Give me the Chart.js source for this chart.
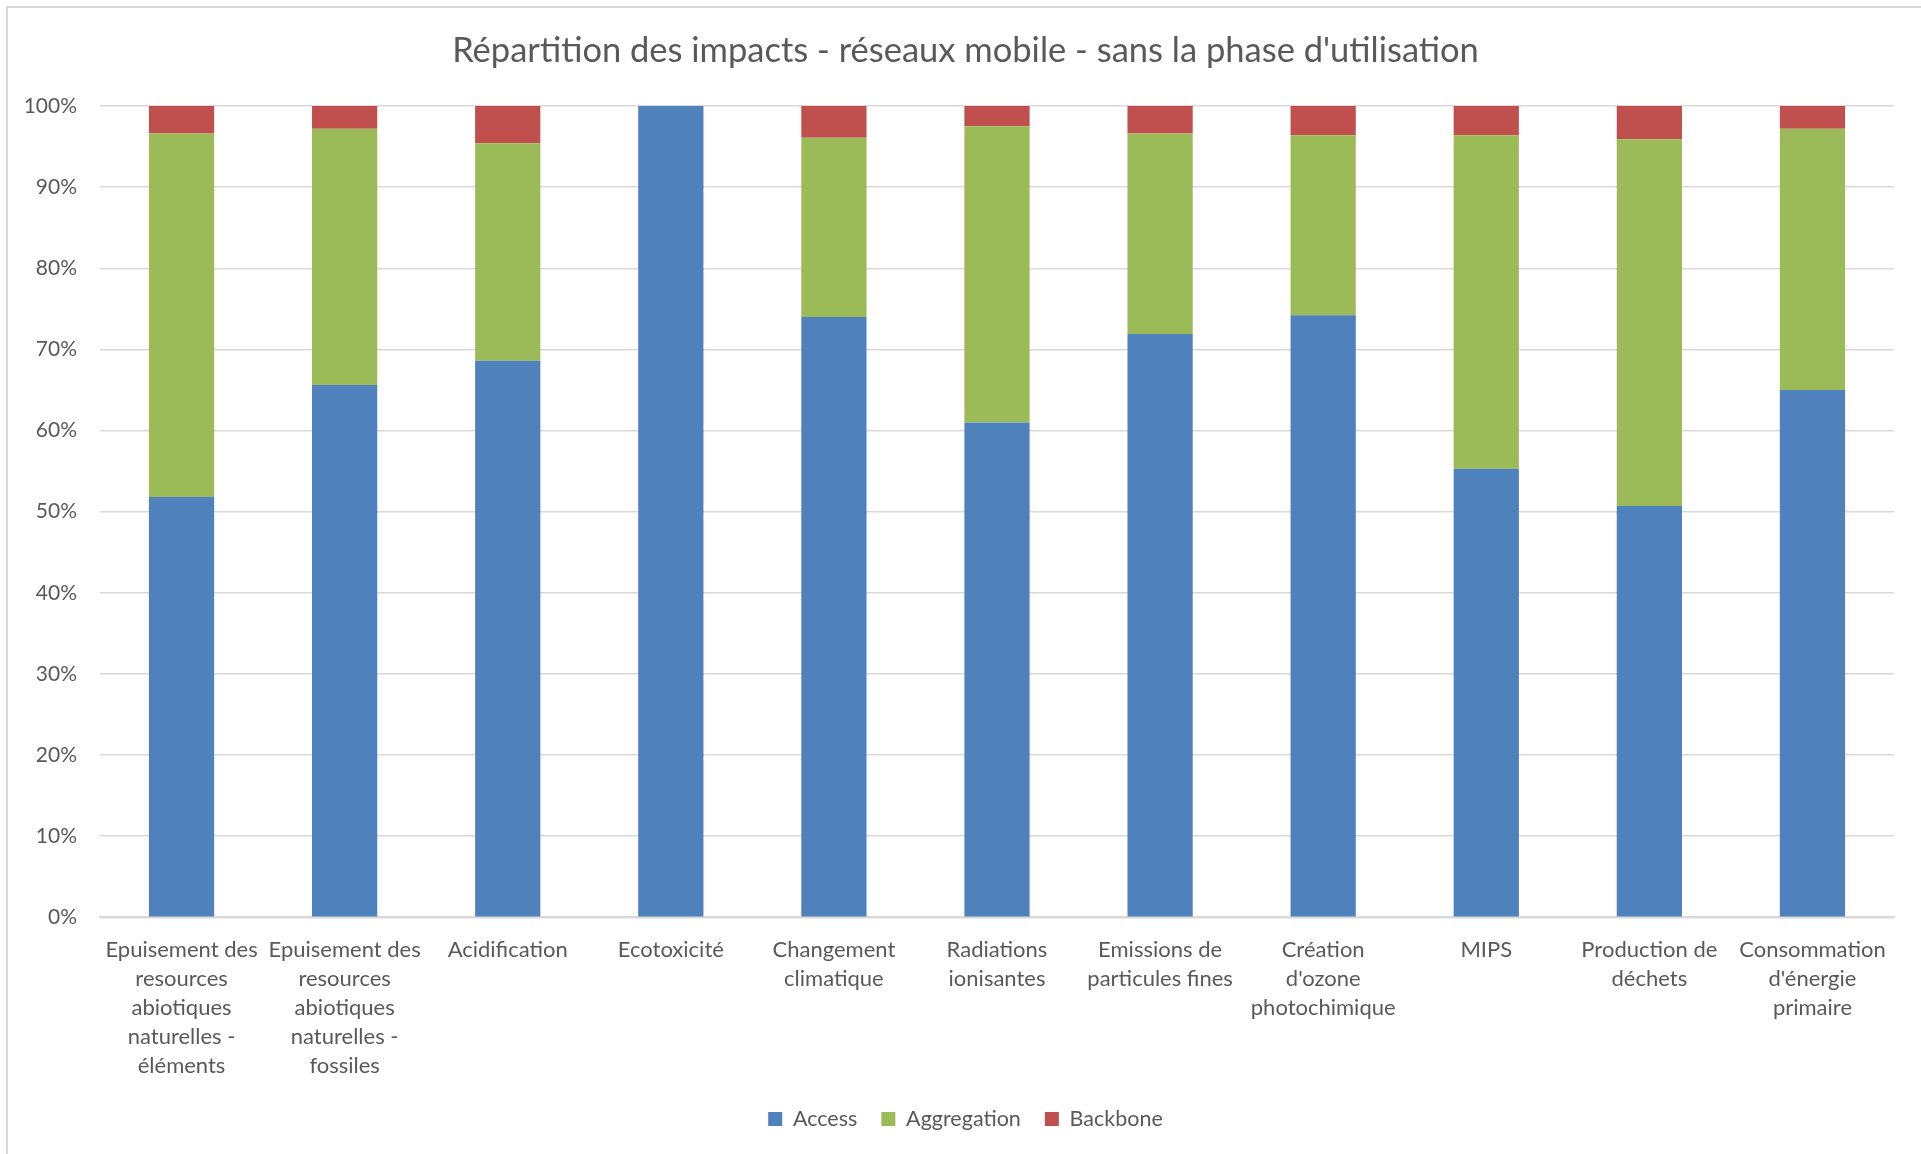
<!DOCTYPE html>
<html>
<head>
<meta charset="utf-8">
<script src="https://cdn.jsdelivr.net/npm/chart.js@4"></script>
<style>
  html, body { margin: 0; padding: 0; background: #fff; }
  #wrap { position: relative; width: 1921px; height: 1154px; }
  #frame { position: absolute; left: 6px; top: 6px; right: 0; bottom: 0;
           border-top: 2px solid #d9d9d9; border-left: 2px solid #d9d9d9; pointer-events: none; }
</style>
</head>
<body>
<div id="wrap">
  <canvas id="impactChart" width="1921" height="1154"></canvas>
  <div id="frame"></div>
</div>
<script>
// --- données (en %) ---
const categories = [
    ['Epuisement des', 'resources', 'abiotiques', 'naturelles -', 'éléments'],
    ['Epuisement des', 'resources', 'abiotiques', 'naturelles -', 'fossiles'],
    'Acidification',
    'Ecotoxicité',
    ['Changement', 'climatique'],
    ['Radiations', 'ionisantes'],
    ['Emissions de', 'particules fines'],
    ['Création', "d'ozone", 'photochimique'],
    'MIPS',
    ['Production de', 'déchets'],
    ['Consommation', "d'énergie", 'primaire']
];
const access      = [51.8, 65.6, 68.6, 100, 74.0, 61.0, 71.9, 74.2, 55.3, 50.7, 65.0];
const aggregation = [44.8, 31.6, 26.8,   0, 22.1, 36.5, 24.7, 22.2, 41.1, 45.2, 32.2];
const backbone    = [ 3.4,  2.8,  4.6,   0,  3.9,  2.5,  3.4,  3.6,  3.6,  4.1,  2.8];
const yTicks = [0, 10, 20, 30, 40, 50, 60, 70, 80, 90, 100];

const textColor = '#595959';
const fontFamily = 'Lato, "Open Sans", sans-serif';

const ctx = document.getElementById('impactChart').getContext('2d');
const impactChart = new Chart(ctx, {
    type: 'bar',
    data: {
        labels: categories,
        datasets: [
            { label: 'Access', data: access, backgroundColor: '#4F81BD' },
            { label: 'Aggregation', data: aggregation, backgroundColor: '#9BBB59' },
            { label: 'Backbone', data: backbone, backgroundColor: '#C0504D' }
        ]
    },
    options: {
        responsive: false,
        animation: false,
        categoryPercentage: 1,
        barPercentage: 0.4,
        layout: { padding: { top: 0, right: 0, bottom: 14.25, left: 10 } },
        plugins: {
            title: {
                display: true,
                text: "Répartition des impacts - réseaux mobile - sans la phase d'utilisation",
                color: textColor,
                font: { family: fontFamily, size: 34.5, weight: 'normal', lineHeight: 1.2 },
                padding: { top: 30.3, bottom: 34.3 }
            },
            legend: {
                position: 'bottom',
                labels: {
                    color: textColor,
                    boxWidth: 14,
                    boxHeight: 14,
                    padding: 24,
                    font: { family: fontFamily, size: 21.5 }
                }
            },
            tooltip: { enabled: false }
        },
        scales: {
            x: {
                stacked: true,
                grid: { display: false, drawTicks: false },
                border: { display: true, color: '#d9d9d9', width: 2 },
                ticks: {
                    color: textColor,
                    padding: 18,
                    maxRotation: 0,
                    autoSkip: false,
                    font: { family: fontFamily, size: 22, lineHeight: '29px' }
                },
                afterFit: (s) => { s.height = 167; }
            },
            y: {
                stacked: true,
                min: 0,
                max: 100,
                grid: { color: '#d9d9d9', lineWidth: 1.5, drawTicks: false },
                border: { display: false },
                afterBuildTicks: (s) => { s.ticks = yTicks.map(v => ({ value: v })); },
                ticks: {
                    color: textColor,
                    padding: 23,
                    font: { family: fontFamily, size: 21 },
                    callback: (v) => v + '%'
                },
                afterFit: (s) => { s.width = 90; }
            },
            // marge droite vide (le graphe Excel ne va pas jusqu'au bord)
            yRight: {
                position: 'right',
                grid: { display: false, drawTicks: false },
                border: { display: false },
                ticks: { display: false },
                afterFit: (s) => { s.width = 27; }
            }
        }
    }
});
</script>
</body>
</html>
